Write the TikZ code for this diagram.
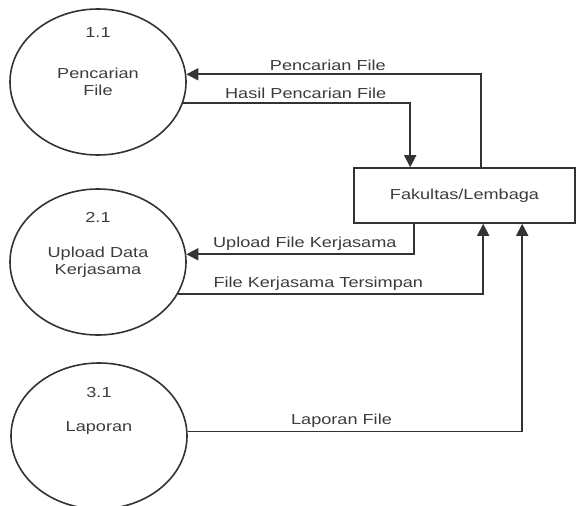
\documentclass[tikz,border=0pt]{standalone}
\usepackage{fontspec}
\setmainfont{Liberation Sans}[FakeStretch=1.25]
\usepackage{tikz}
\usetikzlibrary{shapes.geometric,arrows.meta}
\definecolor{linegray}{HTML}{333333}
\definecolor{textgray}{HTML}{3C3C3C}

\begin{document}
\begin{tikzpicture}[x=1pt,y=-1pt,
  font=\fontsize{14.5}{16.7}\selectfont,
  every node/.style={text=textgray},
  proc/.style={draw=linegray,line width=1.6pt,ellipse,minimum width=176pt,minimum height=146pt,inner sep=0pt},
  entity/.style={draw=linegray,line width=1.6pt,rectangle,minimum width=221pt,minimum height=55pt,inner sep=0pt},
  flow/.style={draw=linegray,line width=1.6pt,-{Triangle[length=12pt,width=12pt]}}]
  \useasboundingbox (0,0) rectangle (576,506);
  % processes
  \node [proc] (p1) at (98,82) {};
  \node (num1) at (98,33) {1.1};
  \node [align=center] (txt1) at (98,82) {Pencarian\\File};
  \node [proc] (p2) at (98,262) {};
  \node (num2) at (98,217) {2.1};
  \node [align=center] (txt2) at (98,262) {Upload Data\\Kerjasama};
  \node [proc] (p3) at (99,436) {};
  \node (num3) at (99,393) {3.1};
  \node (txt3) at (99,428) {Laporan};
  % external entity
  \node [entity] (fak) at (464.5,195.5) {Fakultas/Lembaga};
  \coordinate (t1) at ([xshift=57pt]fak.north west);
  \coordinate (t2) at ([xshift=128pt]fak.north west);
  \coordinate (b1) at ([xshift=61pt]fak.south west);
  \coordinate (b2) at ([xshift=130pt]fak.south west);
  \coordinate (b3) at ([xshift=169pt]fak.south west);
  % data flows
  \draw [flow] (t2) |- (p1.5.2) node[pos=0.76,above]{Pencarian File};
  \draw [flow] (p1.-14.7) -| (t1) node[pos=0.27,above]{Hasil Pencarian File};
  \draw [flow] (b1) |- (p2.5.2) node[pos=0.74,above]{Upload File Kerjasama};
  \draw [flow] (p2.-22) -| (b2) node[pos=0.23,above]{File Kerjasama Tersimpan};
  \draw [flow] (p3.3.9) -| (b3) node[pos=0.23,above]{Laporan File};
 \end{tikzpicture}
\end{document}
